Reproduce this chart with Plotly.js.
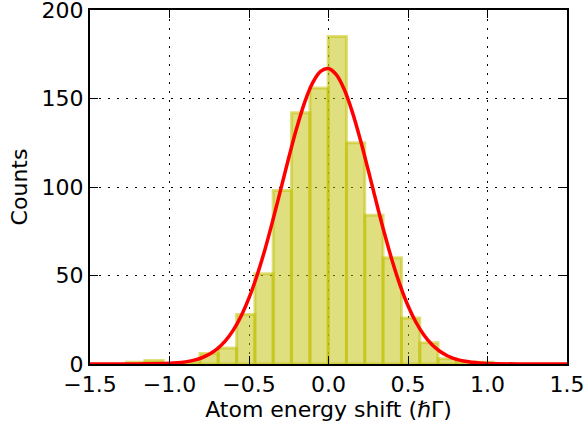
<!DOCTYPE html>
<html>
<head>
<meta charset="utf-8">
<script src="https://cdn.plot.ly/plotly-3.0.1.min.js"></script>
<style>
html,body{margin:0;padding:0;background:#fff;}
#chart{width:588px;height:430px;}
</style>
</head>
<body>
<div id="chart"></div>
<script>
// Histogram bin edges (20 bins)
const binEdges = [-1.270, -1.155, -1.039, -0.924, -0.809, -0.694, -0.578, -0.463, -0.348, -0.233,
                  -0.117, -0.002, 0.113, 0.228, 0.343, 0.459, 0.574, 0.689, 0.804, 0.920, 1.035];
// Counts per bin
const counts = [1, 2, 0, 1, 6, 9, 28, 51, 98, 142, 156, 185, 125, 84, 60, 26, 12, 3, 1, 1];

// Gaussian fit curve
const fitX = [-1.5, -1.2, -1.0, -0.95, -0.9, -0.85, -0.8, -0.75, -0.7, -0.65, -0.6, -0.55, -0.5, -0.45,
              -0.4, -0.35, -0.3, -0.25, -0.2, -0.15, -0.1, -0.05, 0.0, 0.05, 0.1, 0.15, 0.2, 0.25,
              0.3, 0.35, 0.4, 0.45, 0.5, 0.55, 0.6, 0.65, 0.7, 0.75, 0.8, 0.85, 0.9, 0.95, 1.0, 1.2, 1.5];
const fitY = [0, 0.02, 0.37, 0.67, 1.19, 2.04, 3.39, 5.47, 8.55, 12.9, 19.0, 27.0, 37.3, 49.9,
              64.6, 81.2, 98.8, 116.5, 133.3, 147.8, 158.8, 165.3, 166.9, 163.3, 154.9, 142.3, 126.8, 109.5,
              91.7, 74.4, 58.5, 44.6, 32.9, 23.6, 16.4, 11.0, 7.2, 4.54, 2.78, 1.65, 0.95, 0.53, 0.29, 0.02, 0];

const xTicks = [-1.5, -1.0, -0.5, 0.0, 0.5, 1.0, 1.5];
const yTicks = [0, 50, 100, 150, 200];

const centers = [], widths = [];
for (let i = 0; i < counts.length; i++) {
  centers.push((binEdges[i] + binEdges[i + 1]) / 2);
  widths.push(binEdges[i + 1] - binEdges[i]);
}

const bars = {
  type: 'bar',
  x: centers,
  y: counts,
  width: widths,
  marker: {
    color: 'rgba(191,191,0,0.5)',
    line: {color: 'rgba(191,191,0,0.5)', width: 3}
  },
  hoverinfo: 'skip',
  showlegend: false
};

const fit = {
  type: 'scatter',
  mode: 'lines',
  x: fitX,
  y: fitY,
  line: {color: '#ff0000', width: 3.5, shape: 'spline', smoothing: 1},
  hoverinfo: 'skip',
  showlegend: false
};

const FONT = {family: 'DejaVu Sans', size: 22, color: '#000'};

const axisCommon = {
  showline: true,
  linecolor: '#000',
  linewidth: 2,
  mirror: 'ticks',
  ticks: 'inside',
  ticklen: 8,
  tickwidth: 1,
  tickcolor: '#000',
  showgrid: true,
  gridcolor: '#000',
  gridwidth: 1,
  griddash: '2px,7px',
  zeroline: false,
  ticklabeloverflow: 'allow',
  tickfont: FONT
};

const layout = {
  width: 588,
  height: 430,
  margin: {l: 90, r: 21, t: 10, b: 66},
  paper_bgcolor: '#fff',
  plot_bgcolor: '#fff',
  bargap: 0,
  font: FONT,
  xaxis: Object.assign({}, axisCommon, {
    range: [-1.5, 1.5],
    tickvals: xTicks,
    ticktext: xTicks.map(v => (v < 0 ? '\u2212' : '') + Math.abs(v).toFixed(1)),
    title: {text: 'Atom energy shift (<i>\u210F</i>\u0393)', font: FONT, standoff: 4}
  }),
  yaxis: Object.assign({}, axisCommon, {
    range: [0, 200],
    tickvals: yTicks,
    ticktext: yTicks.map(v => String(v)),
    title: {text: 'Counts', font: FONT, standoff: 8}
  })
};

Plotly.newPlot('chart', [bars, fit], layout, {displayModeBar: false, staticPlot: true});
</script>
</body>
</html>
